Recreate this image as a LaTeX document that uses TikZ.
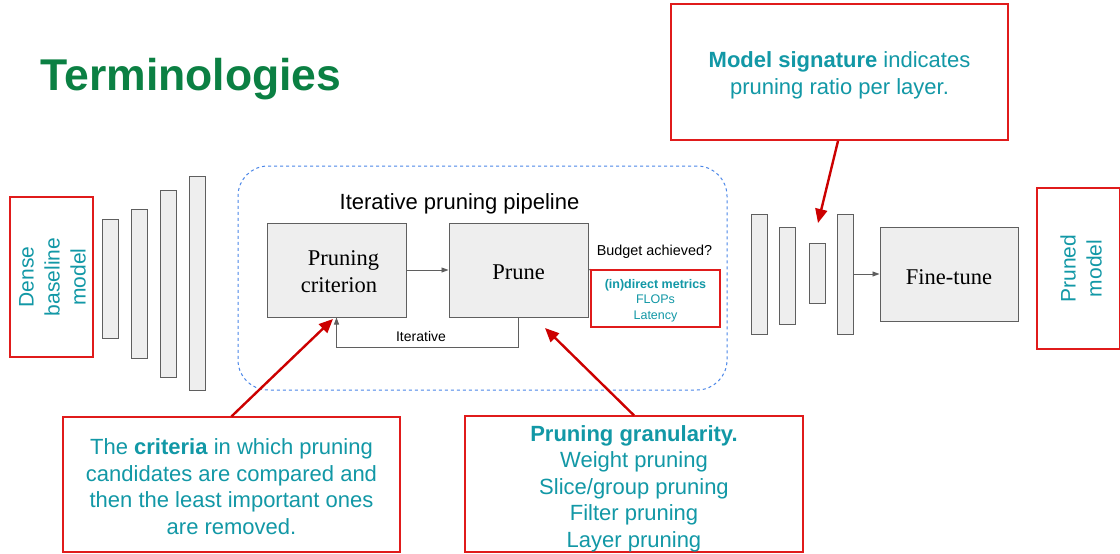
\documentclass[tikz,border=0pt]{standalone}
\usepackage{fontspec}
\setmainfont{Liberation Serif}
\setsansfont{Liberation Sans}
\newfontfamily\arial{Liberation Sans}
\usetikzlibrary{arrows.meta}
\definecolor{titlegreen}{HTML}{0B8043}
\definecolor{tealtext}{HTML}{1298A6}
\definecolor{boxred}{HTML}{E01B1B}
\definecolor{arrowred}{HTML}{CC0000}
\definecolor{layerfill}{HTML}{EEEEEE}
\definecolor{layerline}{HTML}{5F5F5F}
\definecolor{pipeblue}{HTML}{4A86E8}
\tikzset{
  layer/.style={draw=layerline, fill=layerfill, line width=1pt, inner sep=0pt},
  stepbox/.style={draw=layerline, fill=layerfill, line width=1pt, inner sep=0pt,
    font=\fontsize{22.5}{27}\selectfont, align=center},
  notebox/.style={draw=boxred, line width=1.2pt, inner sep=0pt, fill=white},
  note/.style={text=tealtext, align=center, font=\arial\fontsize{22}{26.5}\selectfont},
  flowarrow/.style={draw=layerline, line width=0.9pt, -{Triangle[length=7pt,width=5pt]}},
  callout/.style={draw=arrowred, line width=2.4pt, -{Triangle[length=14pt,width=12pt]}},
}
\begin{document}
\begin{tikzpicture}[x=1pt, y=-1pt]
\useasboundingbox (0,0) rectangle (1120,554);
\fill[white] (0,0) rectangle (1120,554);

% heading
\node[anchor=west, text=titlegreen, font=\arial\bfseries\fontsize{44.5}{50}\selectfont] (title) at (37,79) {Terminologies};

% dense baseline model
\node[notebox, minimum width=83pt, minimum height=160pt] (dense) at (51.5,277) {};
\node[note, rotate=90, font=\arial\fontsize{21}{26}\selectfont] (densetxt) at (52.5,277) {Dense\\baseline\\model};

% layers of the dense model
\node[layer, minimum width=16pt, minimum height=119pt] (d1) at (110,278.5) {};
\node[layer, minimum width=16pt, minimum height=149pt] (d2) at (139,283.5) {};
\node[layer, minimum width=16pt, minimum height=187pt] (d3) at (168,283.5) {};
\node[layer, minimum width=16pt, minimum height=214pt] (d4) at (197,283) {};

% iterative pruning pipeline
\node[draw=pipeblue, dashed, line width=1pt, rounded corners=30pt,
      minimum width=489pt, minimum height=224pt] (pipe) at (482.5,278) {};
\node[font=\arial\fontsize{22}{26}\selectfont] (pipetitle) at (459.5,204) {Iterative pruning pipeline};

\node[stepbox, minimum width=139pt, minimum height=94pt] (crit) at (336.5,270) {};
\node[font=\fontsize{22.5}{27}\selectfont, align=center] (crittxt) at (339,272) {\hspace*{9pt}Pruning\\criterion};
\node[stepbox, minimum width=139pt, minimum height=94pt] (prune) at (518.5,270) {};
\node[font=\fontsize{22.5}{27}\selectfont] (prunetxt) at (518.5,272) {Prune};
\draw[flowarrow] (crit.east) -- (prune.west);
\draw[flowarrow] (prune.south) -- ++(0,30) coordinate (loopcorner) -| (crit.south);
\node[font=\arial\fontsize{14}{16}\selectfont] (iterlbl) at (421,336) {Iterative};

\node[font=\arial\fontsize{14.4}{16}\selectfont] (budget) at (654.5,252) {Budget achieved?};
\node[notebox, minimum width=129pt, minimum height=57pt] (metrics) at (655.5,298.5) {};
\draw[draw=layerline, line width=0.9pt] (prune.east) -- (metrics.north west);
\draw[notebox, fill=none] (metrics.south west) rectangle (metrics.north east);
\node[text=tealtext, align=center, font=\arial\fontsize{12.5}{15.5}\selectfont] (metricstxt) at (655.5,300.5)
  {\textbf{(in)direct metrics}\\FLOPs\\Latency};

% layers of the pruned model
\node[layer, minimum width=16pt, minimum height=120pt] (p1) at (759,274) {};
\node[layer, minimum width=16pt, minimum height=97pt] (p2) at (787,275.5) {};
\node[layer, minimum width=16pt, minimum height=60pt] (p3) at (817,273) {};
\node[layer, minimum width=16pt, minimum height=120pt] (p4) at (845,274) {};

\node[stepbox, minimum width=138pt, minimum height=94pt] (fine) at (949,274) {};
\node[font=\fontsize{22.5}{27}\selectfont] (finetxt) at (949,277) {Fine-tune};
\draw[flowarrow] (p4.east) -- (fine.west);

% pruned model
\node[notebox, minimum width=83pt, minimum height=161pt] (pruned) at (1078.5,268.5) {};
\node[note, rotate=90, font=\arial\fontsize{21}{26}\selectfont] (prunedtxt) at (1081,268.5) {Pruned\\model};

% callouts
\node[notebox, minimum width=337pt, minimum height=136pt] (signature) at (839.5,72) {};
\node[note, font=\arial\fontsize{22}{27}\selectfont] (signaturetxt) at (839.5,75)
  {\textbf{Model signature} indicates\\pruning ratio per layer.};

\node[notebox, minimum width=337pt, minimum height=135pt] (criteria) at (231.5,484.5) {};
\node[note] (criteriatxt) at (231.5,486.5)
  {The \textbf{criteria} in which pruning\\candidates are compared and\\then the least important ones\\are removed.};

\node[notebox, minimum width=338pt, minimum height=136pt] (gran) at (634,484) {};
\node[note] (grantxt) at (634,488.5)
  {\textbf{Pruning granularity.}\\Weight pruning\\Slice/group pruning\\Filter pruning\\Layer pruning};

\coordinate (sigtip) at (818,223);
\coordinate (crittip) at (333,319);
\coordinate (prunetip) at (545,328);
\draw[callout] (838,141) -- (sigtip);
\draw[callout] (criteria.north) -- (crittip);
\draw[callout] (gran.north) -- (prunetip);
\end{tikzpicture}
\end{document}
